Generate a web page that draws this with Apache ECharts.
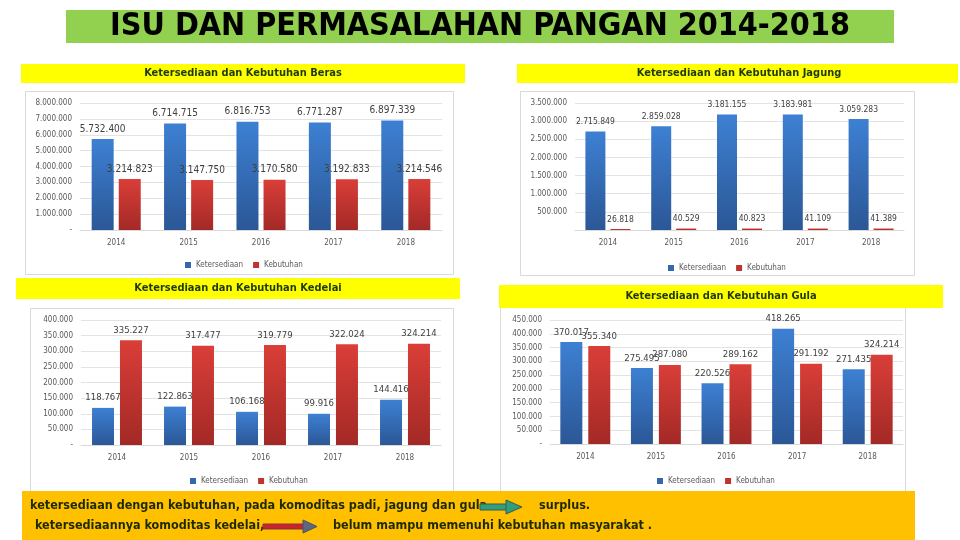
<!DOCTYPE html>
<html>
<head>
<meta charset="utf-8">
<script src="https://cdn.jsdelivr.net/npm/echarts@6/dist/echarts.min.js"></script>
<style>
  html, body { margin: 0; padding: 0; background: #fff; }
  #chart { width: 960px; height: 540px; }
</style>
</head>
<body>
<div id="chart"></div>
<script>
// data
var tahun = ['2014', '2015', '2016', '2017', '2018'];
var berasSedia = [5732400, 6714715, 6816753, 6771287, 6897339];
var berasButuh = [3214823, 3147750, 3170580, 3192833, 3214546];
var jagungSedia = [2715849, 2859028, 3181155, 3183981, 3059283];
var jagungButuh = [26818, 40529, 40823, 41109, 41389];
var kedelaiSedia = [118767, 122863, 106168, 99916, 144416];
var kedelaiButuh = [335227, 317477, 319779, 322024, 324214];
var gulaSedia = [370017, 275495, 220526, 418265, 271435];
var gulaButuh = [355340, 287080, 289162, 291192, 324214];
var namaSeri = ['Ketersediaan', 'Kebutuhan'];

var narrow = "'DejaVu Sans Condensed', 'DejaVu Sans', sans-serif";

function titik(v) {
    if (v === 0) return '-';
    return String(v).replace(/\B(?=(\d{3})+(?!\d))/g, '.');
}

var biru = new echarts.graphic.LinearGradient(0, 0, 0, 1, [
    { offset: 0, color: '#3d80d3' }, { offset: 1, color: '#2b5796' }
]);
var merah = new echarts.graphic.LinearGradient(0, 0, 0, 1, [
    { offset: 0, color: '#da3e38' }, { offset: 1, color: '#a32926' }
]);

var panels = [
    { sedia: berasSedia, butuh: berasButuh, grid: { left: 80, top: 103, width: 362, height: 127 },
      max: 8000000, interval: 1000000, hideZero: false, barW: 22, gap: '23%', lbl: 10,
      legend: { left: 180, top: 256 } },
    { sedia: jagungSedia, butuh: jagungButuh, grid: { left: 575, top: 103, width: 329, height: 127 },
      max: 3500000, interval: 500000, hideZero: true, barW: 20, gap: '25%', lbl: 8.5,
      legend: { left: 663, top: 259 } },
    { sedia: kedelaiSedia, butuh: kedelaiButuh, grid: { left: 81, top: 320, width: 360, height: 125 },
      max: 400000, interval: 50000, hideZero: false, barW: 22, gap: '27%', lbl: 9.5,
      legend: { left: 185, top: 472 } },
    { sedia: gulaSedia, butuh: gulaButuh, grid: { left: 550, top: 320, width: 353, height: 124 },
      max: 450000, interval: 50000, hideZero: false, barW: 22, gap: '27%', lbl: 9.5,
      legend: { left: 652, top: 472 } }
];

var grids = [], xAxes = [], yAxes = [], series = [], legends = [];

panels.forEach(function (p, i) {
    grids.push(p.grid);
    xAxes.push({
        type: 'category', gridIndex: i, data: tahun,
        axisLine: { lineStyle: { color: '#d9d9d9' } },
        axisTick: { show: false },
        axisLabel: { color: '#595959', fontSize: 8, fontFamily: narrow, margin: 9 }
    });
    yAxes.push({
        type: 'value', gridIndex: i, min: 0, max: p.max, interval: p.interval,
        axisLine: { show: false }, axisTick: { show: false },
        splitLine: { lineStyle: { color: '#e3e3e3' } },
        axisLabel: {
            color: '#595959', fontSize: 8, fontFamily: narrow, margin: 8,
            formatter: function (v) { return (v === 0 && p.hideZero) ? '' : titik(v); }
        }
    });
    [p.sedia, p.butuh].forEach(function (vals, k) {
        series.push({
            name: namaSeri[k], type: 'bar', xAxisIndex: i, yAxisIndex: i,
            data: vals, barWidth: p.barW, barGap: p.gap,
            itemStyle: { color: k === 0 ? biru : merah },
            label: {
                show: true, position: 'top', distance: 5,
                color: '#404040', fontSize: p.lbl, fontFamily: narrow,
                formatter: function (d) { return titik(d.value); }
            }
        });
    });
    legends.push({
        left: p.legend.left, top: p.legend.top, icon: 'rect',
        itemWidth: 6, itemHeight: 6, itemGap: 10,
        textStyle: { color: '#595959', fontSize: 8, fontFamily: narrow },
        data: [
            { name: 'Ketersediaan', itemStyle: { color: '#3467b0' } },
            { name: 'Kebutuhan', itemStyle: { color: '#c0332f' } }
        ]
    });
});

function kotak(x, y, w, h, fill, stroke, z) {
    return { type: 'rect', z: z, silent: true, shape: { x: x, y: y, width: w, height: h },
             style: { fill: fill, stroke: stroke || null, lineWidth: 1 } };
}
function tulis(txt, x, y, font, fill, align, z) {
    return { type: 'text', z: z, silent: true,
             style: { text: txt, x: x, y: y, font: font, fill: fill,
                      textAlign: align || 'center', verticalAlign: 'middle', textVerticalAlign: 'middle' } };
}

var headFont = 'bold 11px ' + narrow;
var noteFont = 'bold 12.5px ' + narrow;
var noteCol = '#1d2a00';

var hiasan = [
    // panels
    kotak(25.5, 91.5, 428, 183, '#fff', '#d9d9d9', -10),
    kotak(520.5, 91.5, 394, 184, '#fff', '#d9d9d9', -10),
    kotak(30.5, 308.5, 423, 190, '#fff', '#d9d9d9', -10),
    kotak(500.5, 307.5, 405, 190, '#fff', '#d9d9d9', -10),
    // title
    kotak(66, 10, 828, 33, '#92d050', null, -5),
    tulis('ISU DAN PERMASALAHAN PANGAN 2014-2018', 480, 27, 'bold 32px ' + narrow, '#000', 'center', 20),
    // yellow headers
    kotak(21, 64, 444, 19, '#ffff00', null, 5),
    tulis('Ketersediaan dan Kebutuhan Beras', 243, 73.5, headFont, '#1f3a08', 'center', 20),
    kotak(517, 64, 441, 19, '#ffff00', null, 5),
    tulis('Ketersediaan dan Kebutuhan Jagung', 739, 73.5, headFont, '#1f3a08', 'center', 20),
    kotak(16, 278, 444, 21, '#ffff00', null, 5),
    tulis('Ketersediaan dan Kebutuhan Kedelai', 238, 288.5, headFont, '#1f3a08', 'center', 20),
    kotak(499, 285, 444, 23, '#ffff00', null, 5),
    tulis('Ketersediaan dan Kebutuhan Gula', 721, 296.5, headFont, '#1f3a08', 'center', 20),
    // bottom note
    kotak(22, 491, 893, 49, '#ffc000', null, 50),
    tulis('ketersediaan dengan kebutuhan, pada komoditas padi, jagung dan gula', 30, 506, noteFont, noteCol, 'left', 51),
    tulis('surplus.', 539, 506, noteFont, noteCol, 'left', 51),
    tulis(' ketersediaannya komoditas kedelai,', 31, 526, noteFont, noteCol, 'left', 51),
    tulis('belum mampu memenuhi kebutuhan masyarakat .', 333, 526, noteFont, noteCol, 'left', 51),
    // arrows
    kotak(480, 504, 28, 6, '#2f9e7c', '#3b5a52', 52),
    { type: 'polygon', z: 53, silent: true, shape: { points: [[506, 500], [522, 507], [506, 514]] },
      style: { fill: '#2f9e7c', stroke: '#3b5a52', lineWidth: 1 } },
    kotak(263, 524, 42, 5, '#c8222e', '#8a3040', 52),
    { type: 'polygon', z: 53, silent: true, shape: { points: [[303, 520], [317, 526.5], [303, 533]] },
      style: { fill: '#5d6780', stroke: '#4a5268', lineWidth: 1 } }
];

var chart = echarts.init(document.getElementById('chart'));
chart.setOption({
    animation: false,
    backgroundColor: '#fff',
    grid: grids,
    xAxis: xAxes,
    yAxis: yAxes,
    legend: legends,
    series: series,
    graphic: { elements: hiasan }
});
</script>
</body>
</html>
